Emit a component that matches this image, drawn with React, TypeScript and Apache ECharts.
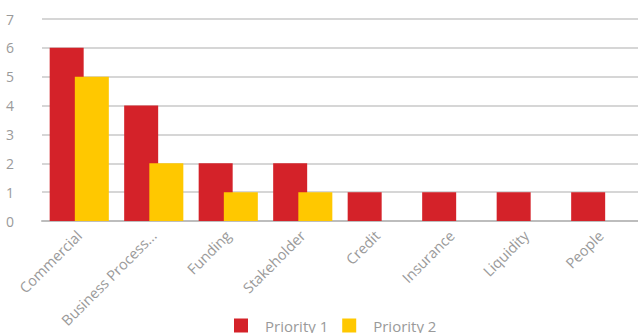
import React, { useEffect, useRef } from "react";
import * as echarts from "echarts";

const categories = ["Commercial", "Business Process...", "Funding", "Stakeholder", "Credit", "Insurance", "Liquidity", "People"];
const priority1 = [6, 4, 2, 2, 1, 1, 1, 1];
const priority2 = [5, 2, 1, 1, 0, 0, 0, 0];
const seriesNames = ["Priority 1", "Priority 2"];
const yMax = 7;

export default function App() {
  const ref = useRef<HTMLDivElement>(null);
  useEffect(() => {
    document.body.style.margin = "0";
    const chart = echarts.init(ref.current!, null, { renderer: "svg" });
    const font = "'Open Sans', sans-serif";
    chart.setOption({
      animation: false,
      textStyle: { fontFamily: font },
      grid: { left: 42, width: 604, top: 19, height: 202 },
      legend: {
        data: seriesNames,
        left: 234,
        top: 318,
        padding: 0,
        icon: "rect",
        itemWidth: 14,
        itemHeight: 14,
        itemGap: 14,
        textStyle: { color: "#9a9a9a", fontSize: 15, lineHeight: 14, fontFamily: font, padding: [0, 0, 0, 12] },
      },
      xAxis: {
        type: "category",
        data: categories,
        axisTick: { show: false },
        axisLine: { lineStyle: { color: "#bdbdbd", width: 2 } },
        axisLabel: { rotate: 45, color: "#9a9a9a", fontSize: 14.5, fontFamily: font, margin: 12, interval: 0 },
      },
      yAxis: {
        type: "value",
        min: 0,
        max: yMax,
        interval: 1,
        axisLine: { show: false },
        axisTick: { show: false },
        splitLine: { lineStyle: { color: "#c8c8c8", width: 1.5 } },
        axisLabel: {
          color: "#9a9a9a",
          fontSize: 14,
          fontFamily: font,
          margin: 28,
          align: "right",
          padding: [0, 0, 9, 0],
        },
      },
      series: [
        {
          name: seriesNames[0],
          type: "bar",
          data: priority1,
          barWidth: 34,
          barGap: "-26%",
          itemStyle: { color: "#d42229" },
        },
        {
          name: seriesNames[1],
          type: "bar",
          data: priority2,
          barWidth: 34,
          itemStyle: { color: "#ffc800" },
        },
      ],
    });
    return () => chart.dispose();
  }, []);
  return <div ref={ref} style={{ width: 638, height: 333 }} />;
}
